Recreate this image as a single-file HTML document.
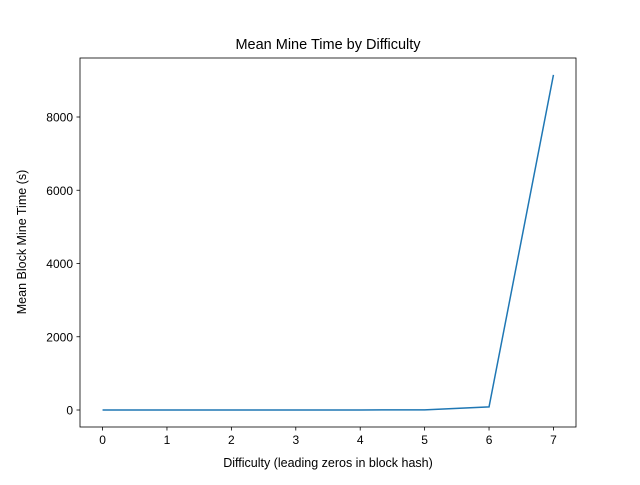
<!DOCTYPE html>
<html><head><meta charset="utf-8"><style>
body{margin:0;background:#fff;}
svg{font-family:"Liberation Sans","DejaVu Sans",sans-serif;}
</style></head><body>
<svg id="chart" width="640" height="480" viewBox="0 0 640 480">
<rect width="640" height="480" fill="#fff"/>
<text x="328" y="49" text-anchor="middle" font-size="14.5">Mean Mine Time by Difficulty</text>
<g id="axes"></g>
<text x="328" y="467" text-anchor="middle" font-size="12.5">Difficulty (leading zeros in block hash)</text>
<text transform="translate(26,242) rotate(-90)" text-anchor="middle" font-size="12.5">Mean Block Mine Time (s)</text>
</svg>
<script>
const difficulties=[0,1,2,3,4,5,6,7];
const meanTimes=[0.01,0.02,0.1,0.4,1.5,5,85,9150];
const xTicks=[0,1,2,3,4,5,6,7];
const yTicks=[0,2000,4000,6000,8000];
const L=80,R=576,T=58,B=427;
const xMin=-0.35,xMax=7.35,yMin=-464,yMax=9611;
const sx=v=>L+(v-xMin)/(xMax-xMin)*(R-L);
const sy=v=>B-(v-yMin)/(yMax-yMin)*(B-T);
const g=document.getElementById('axes');
const NS='http://www.w3.org/2000/svg';
function mk(t,a){const e=document.createElementNS(NS,t);for(const k in a)e.setAttribute(k,a[k]);g.appendChild(e);return e;}
xTicks.forEach(v=>{
 const l=mk('line',{x1:sx(v),x2:sx(v),y1:B,y2:B+3.5,stroke:'#000','stroke-width':0.8});
 
 
 const t=mk('text',{x:sx(v),y:B+17,'text-anchor':'middle','font-size':12});
 t.textContent=v;
 
 
});
yTicks.forEach(v=>{
 const l=mk('line',{x1:L-3.5,x2:L,y1:sy(v),y2:sy(v),stroke:'#000','stroke-width':0.8});
 
 
 const t=mk('text',{x:L-7,y:sy(v)+4.5,'text-anchor':'end','font-size':12});
 t.textContent=v;
 
 
});
const p=mk('polyline',{points:difficulties.map((d,i)=>sx(d)+','+sy(meanTimes[i])).join(' '),fill:'none',stroke:'#1f77b4','stroke-width':1.5});


const f=mk('rect',{x:L,y:T,width:R-L,height:B-T,fill:'none',stroke:'#000','stroke-width':0.8});


</script>
</body></html>
